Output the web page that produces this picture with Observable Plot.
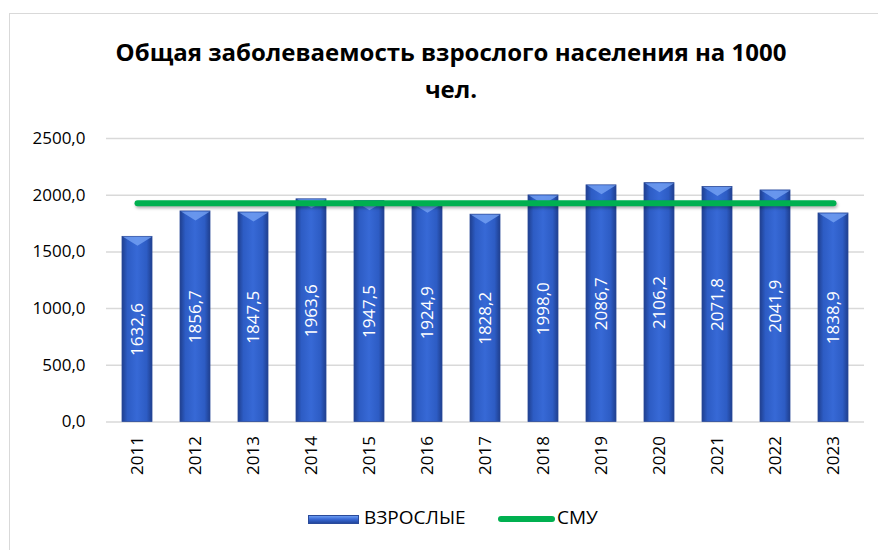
<!DOCTYPE html>
<html><head><meta charset="utf-8">
<script src="https://cdn.jsdelivr.net/npm/d3@7"></script>
<script src="https://cdn.jsdelivr.net/npm/@observablehq/plot@0.6"></script>
<style>
body{margin:0;background:#fff;font-family:"Open Sans",sans-serif;}
#wrap{position:relative;width:878px;height:550px;overflow:hidden;}
#frame{position:absolute;left:9px;top:13px;width:900px;height:600px;border:1.5px solid #d9d9d9;}
#title{position:absolute;left:0;width:902px;top:33px;text-align:center;font-weight:bold;font-size:24px;line-height:37px;color:#000;}
#chart{position:absolute;left:0;top:110px;}
#legend{position:absolute;left:0;top:504px;width:878px;font-size:19px;color:#000;}
.sw{position:absolute;}
.smu{filter:drop-shadow(1px 2px 1.5px rgba(0,0,0,0.3));}
</style></head>
<body><div id="wrap">
<div id="frame"></div>
<div id="title">Общая заболеваемость взрослого населения на 1000<br>чел.</div>
<div id="chart"></div>
<div id="legend">
  <div class="sw" style="left:308px;top:11px;width:51px;height:9px;background:linear-gradient(#6b9bf0,#3a6ad6 45%,#23479e);border:1px solid #2a4a9a;box-sizing:border-box;"></div>
  <div class="sw" style="left:364px;top:0px;">ВЗРОСЛЫЕ</div>
  <div class="sw" style="left:498px;top:12px;width:57px;height:6px;border-radius:3px;background:#00b050;"></div>
  <div class="sw" style="left:557px;top:0px;">СМУ</div>
</div>
</div>
<script>
const years = ["2011","2012","2013","2014","2015","2016","2017","2018","2019","2020","2021","2022","2023"];
const adults = [1632.6,1856.7,1847.5,1963.6,1947.5,1924.9,1828.2,1998.0,2086.7,2106.2,2071.8,2041.9,1838.9];
const smu = [1930,1930,1930,1930,1930,1930,1930,1930,1930,1930,1930,1930,1930];
const yTicks = [0,500,1000,1500,2000,2500];

const data = years.map((y,i)=>({year:y, v:adults[i], s:smu[i]}));
const fmt = d => d.toFixed(1).replace(".", ",");

const bevel = {draw(ctx, size){ const w = Math.sqrt(size/Math.PI); ctx.moveTo(-w,0); ctx.lineTo(w,0); ctx.lineTo(0,9); ctx.closePath(); }};

const chart = Plot.plot({
  width: 878, height: 380,
  marginLeft: 106, marginRight: 14, marginTop: 28, marginBottom: 68.5,
  style: {fontFamily: "Open Sans, sans-serif", fontSize: "17px", color: "#000", background: "transparent"},
  x: {domain: years, paddingInner: 0.485, paddingOuter: 0.2425, label: null},
  y: {domain: [0,2500], label: null},
  marks: [
    Plot.gridY(yTicks, {stroke: "#d9d9d9", strokeOpacity: 1, strokeWidth: 1.5}),
    Plot.axisY({ticks: yTicks, tickFormat: fmt, tickSize: 0, tickPadding: 21, label: null, fontSize: 17}),
    Plot.axisX({tickSize: 0, tickPadding: 14, tickRotate: -90, label: null, fontSize: 17}),
    Plot.barY(data, {x: "year", y: "v", fill: "url(#barGrad)", stroke: "#2a4a9a", strokeWidth: 0.8}),
    Plot.dot(data, {x: "year", y: "v", symbol: bevel, r: 14.5, fill: "#7aa6f5", fillOpacity: 0.75, stroke: "none"}),
    Plot.text(data, {x: "year", y: d => d.v/2, text: d => fmt(d.v), rotate: -90, fill: "white", fontSize: 17}),
    Plot.lineY(data, {x: "year", y: "s", stroke: "#00b050", strokeWidth: 6, strokeLinecap: "round", className: "smu"})
  ]
});

const svg = d3.select(chart);
const defs = svg.insert("defs", ":first-child");
const g = defs.append("linearGradient").attr("id","barGrad").attr("x1","0").attr("x2","1").attr("y1","0").attr("y2","0");
[["0%","#1f3f8f"],["18%","#2d5cc4"],["50%","#3769d6"],["82%","#2d5cc4"],["100%","#1f3f8f"]].forEach(([o,c])=>g.append("stop").attr("offset",o).attr("stop-color",c));
document.getElementById("chart").appendChild(chart);
</script>
</body></html>
